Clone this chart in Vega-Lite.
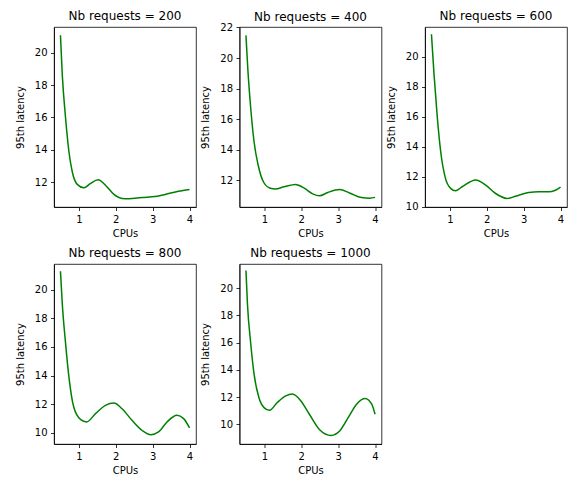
{
  "$schema": "https://vega.github.io/schema/vega-lite/v6.json",
  "padding": {"left": 14, "top": 9, "right": 0, "bottom": 0},
  "config": {
    "font": "DejaVu Sans",
    "view": {"stroke": "#000", "strokeWidth": 0.8},
    "axis": {"grid": false, "domainColor": "#000", "domainWidth": 0.8, "tickColor": "#000", "tickWidth": 0.8, "tickSize": 3.5, "labelPadding": 3.5, "labelFontSize": 10, "labelColor": "#000", "labelFont": "DejaVu Sans", "labelFlush": false, "titleFontSize": 10, "titleFontWeight": "normal", "titleColor": "#000", "titleFont": "DejaVu Sans", "titlePadding": 4},
    "axisY": {"titlePadding": 9},
    "title": {"fontSize": 12, "fontWeight": "normal", "font": "DejaVu Sans", "color": "#000", "anchor": "middle", "frame": "group", "offset": 4}
  },
  "data": {"values": [
    {"req": 200, "cpus": 0.5, "latency": 21.09},
    {"req": 200, "cpus": 0.55, "latency": 18.62},
    {"req": 200, "cpus": 0.64, "latency": 15.94},
    {"req": 200, "cpus": 0.73, "latency": 13.88},
    {"req": 200, "cpus": 0.82, "latency": 12.64},
    {"req": 200, "cpus": 0.955, "latency": 11.86},
    {"req": 200, "cpus": 1.135, "latency": 11.65},
    {"req": 200, "cpus": 1.315, "latency": 11.92},
    {"req": 200, "cpus": 1.52, "latency": 12.14},
    {"req": 200, "cpus": 1.72, "latency": 11.81},
    {"req": 200, "cpus": 1.95, "latency": 11.24},
    {"req": 200, "cpus": 2.17, "latency": 10.99},
    {"req": 200, "cpus": 2.35, "latency": 10.97},
    {"req": 200, "cpus": 2.71, "latency": 11.05},
    {"req": 200, "cpus": 3.07, "latency": 11.11},
    {"req": 200, "cpus": 3.34, "latency": 11.24},
    {"req": 200, "cpus": 3.7, "latency": 11.44},
    {"req": 200, "cpus": 4.0, "latency": 11.55},

    {"req": 400, "cpus": 0.5, "latency": 21.48},
    {"req": 400, "cpus": 0.55, "latency": 19.3},
    {"req": 400, "cpus": 0.63, "latency": 16.7},
    {"req": 400, "cpus": 0.72, "latency": 14.52},
    {"req": 400, "cpus": 0.83, "latency": 13.0},
    {"req": 400, "cpus": 0.98, "latency": 11.87},
    {"req": 400, "cpus": 1.16, "latency": 11.48},
    {"req": 400, "cpus": 1.3, "latency": 11.43},
    {"req": 400, "cpus": 1.53, "latency": 11.57},
    {"req": 400, "cpus": 1.85, "latency": 11.72},
    {"req": 400, "cpus": 2.08, "latency": 11.48},
    {"req": 400, "cpus": 2.31, "latency": 11.11},
    {"req": 400, "cpus": 2.49, "latency": 10.98},
    {"req": 400, "cpus": 2.72, "latency": 11.2},
    {"req": 400, "cpus": 3.04, "latency": 11.39},
    {"req": 400, "cpus": 3.31, "latency": 11.17},
    {"req": 400, "cpus": 3.63, "latency": 10.87},
    {"req": 400, "cpus": 3.86, "latency": 10.83},
    {"req": 400, "cpus": 4.0, "latency": 10.88},

    {"req": 600, "cpus": 0.5, "latency": 21.5},
    {"req": 600, "cpus": 0.57, "latency": 18.82},
    {"req": 600, "cpus": 0.66, "latency": 15.91},
    {"req": 600, "cpus": 0.75, "latency": 13.68},
    {"req": 600, "cpus": 0.88, "latency": 11.89},
    {"req": 600, "cpus": 1.02, "latency": 11.22},
    {"req": 600, "cpus": 1.15, "latency": 11.06},
    {"req": 600, "cpus": 1.33, "latency": 11.33},
    {"req": 600, "cpus": 1.7, "latency": 11.78},
    {"req": 600, "cpus": 1.97, "latency": 11.44},
    {"req": 600, "cpus": 2.24, "latency": 10.88},
    {"req": 600, "cpus": 2.55, "latency": 10.55},
    {"req": 600, "cpus": 2.78, "latency": 10.7},
    {"req": 600, "cpus": 3.14, "latency": 10.95},
    {"req": 600, "cpus": 3.41, "latency": 10.99},
    {"req": 600, "cpus": 3.68, "latency": 10.99},
    {"req": 600, "cpus": 3.86, "latency": 11.1},
    {"req": 600, "cpus": 4.0, "latency": 11.31},

    {"req": 800, "cpus": 0.5, "latency": 21.28},
    {"req": 800, "cpus": 0.55, "latency": 19.0},
    {"req": 800, "cpus": 0.64, "latency": 16.22},
    {"req": 800, "cpus": 0.73, "latency": 13.9},
    {"req": 800, "cpus": 0.86, "latency": 11.81},
    {"req": 800, "cpus": 1.05, "latency": 10.93},
    {"req": 800, "cpus": 1.21, "latency": 10.77},
    {"req": 800, "cpus": 1.45, "latency": 11.35},
    {"req": 800, "cpus": 1.72, "latency": 11.93},
    {"req": 800, "cpus": 1.95, "latency": 12.09},
    {"req": 800, "cpus": 2.17, "latency": 11.69},
    {"req": 800, "cpus": 2.44, "latency": 10.88},
    {"req": 800, "cpus": 2.71, "latency": 10.19},
    {"req": 800, "cpus": 2.95, "latency": 9.88},
    {"req": 800, "cpus": 3.16, "latency": 10.07},
    {"req": 800, "cpus": 3.39, "latency": 10.77},
    {"req": 800, "cpus": 3.66, "latency": 11.23},
    {"req": 800, "cpus": 3.84, "latency": 11.0},
    {"req": 800, "cpus": 4.0, "latency": 10.35},

    {"req": 1000, "cpus": 0.5, "latency": 21.28},
    {"req": 1000, "cpus": 0.54, "latency": 18.87},
    {"req": 1000, "cpus": 0.63, "latency": 15.91},
    {"req": 1000, "cpus": 0.72, "latency": 13.69},
    {"req": 1000, "cpus": 0.85, "latency": 11.97},
    {"req": 1000, "cpus": 0.99, "latency": 11.23},
    {"req": 1000, "cpus": 1.14, "latency": 11.03},
    {"req": 1000, "cpus": 1.35, "latency": 11.6},
    {"req": 1000, "cpus": 1.58, "latency": 12.09},
    {"req": 1000, "cpus": 1.76, "latency": 12.22},
    {"req": 1000, "cpus": 1.99, "latency": 11.72},
    {"req": 1000, "cpus": 2.22, "latency": 10.74},
    {"req": 1000, "cpus": 2.49, "latency": 9.63},
    {"req": 1000, "cpus": 2.81, "latency": 9.19},
    {"req": 1000, "cpus": 3.04, "latency": 9.51},
    {"req": 1000, "cpus": 3.27, "latency": 10.49},
    {"req": 1000, "cpus": 3.5, "latency": 11.48},
    {"req": 1000, "cpus": 3.73, "latency": 11.9},
    {"req": 1000, "cpus": 3.91, "latency": 11.48},
    {"req": 1000, "cpus": 4.0, "latency": 10.74}
  ]},
  "columns": 3,
  "bounds": "flush",
  "spacing": {"row": 57, "column": 43.5},
  "concat": [
    {
      "title": "Nb requests = 200",
      "width": 142, "height": 180,
      "transform": [{"filter": "datum.req == 200"}],
      "mark": {"type": "line", "color": "#008000", "strokeWidth": 1.5, "interpolate": "monotone"},
      "encoding": {
        "x": {"field": "cpus", "type": "quantitative", "scale": {"domain": [0.325, 4.175], "nice": false, "zero": false}, "axis": {"values": [1, 2, 3, 4], "title": "CPUs"}},
        "y": {"field": "latency", "type": "quantitative", "scale": {"domain": [10.46, 21.6], "nice": false, "zero": false}, "axis": {"values": [12, 14, 16, 18, 20], "title": "95th latency"}}
      }
    },
    {
      "title": {"text": "Nb requests = 400", "offset": -2},
      "width": 142, "height": 180,
      "transform": [{"filter": "datum.req == 400"}],
      "mark": {"type": "line", "color": "#008000", "strokeWidth": 1.5, "interpolate": "monotone"},
      "encoding": {
        "x": {"field": "cpus", "type": "quantitative", "scale": {"domain": [0.325, 4.175], "nice": false, "zero": false}, "axis": {"values": [1, 2, 3, 4], "title": "CPUs"}},
        "y": {"field": "latency", "type": "quantitative", "scale": {"domain": [10.25, 22.03], "nice": false, "zero": false}, "axis": {"values": [12, 14, 16, 18, 20, 22], "title": "95th latency"}}
      }
    },
    {
      "title": "Nb requests = 600",
      "width": 142, "height": 180,
      "transform": [{"filter": "datum.req == 600"}],
      "mark": {"type": "line", "color": "#008000", "strokeWidth": 1.5, "interpolate": "monotone"},
      "encoding": {
        "x": {"field": "cpus", "type": "quantitative", "scale": {"domain": [0.325, 4.175], "nice": false, "zero": false}, "axis": {"values": [1, 2, 3, 4], "title": "CPUs"}},
        "y": {"field": "latency", "type": "quantitative", "scale": {"domain": [9.98, 21.98], "nice": false, "zero": false}, "axis": {"values": [10, 12, 14, 16, 18, 20], "title": "95th latency"}}
      }
    },
    {
      "title": "Nb requests = 800",
      "width": 142, "height": 180,
      "transform": [{"filter": "datum.req == 800"}],
      "mark": {"type": "line", "color": "#008000", "strokeWidth": 1.5, "interpolate": "monotone"},
      "encoding": {
        "x": {"field": "cpus", "type": "quantitative", "scale": {"domain": [0.325, 4.175], "nice": false, "zero": false}, "axis": {"values": [1, 2, 3, 4], "title": "CPUs"}},
        "y": {"field": "latency", "type": "quantitative", "scale": {"domain": [9.23, 21.79], "nice": false, "zero": false}, "axis": {"values": [10, 12, 14, 16, 18, 20], "title": "95th latency"}}
      }
    },
    {
      "title": "Nb requests = 1000",
      "width": 142, "height": 180,
      "transform": [{"filter": "datum.req == 1000"}],
      "mark": {"type": "line", "color": "#008000", "strokeWidth": 1.5, "interpolate": "monotone"},
      "encoding": {
        "x": {"field": "cpus", "type": "quantitative", "scale": {"domain": [0.325, 4.175], "nice": false, "zero": false}, "axis": {"values": [1, 2, 3, 4], "title": "CPUs"}},
        "y": {"field": "latency", "type": "quantitative", "scale": {"domain": [8.56, 21.76], "nice": false, "zero": false}, "axis": {"values": [10, 12, 14, 16, 18, 20], "title": "95th latency"}}
      }
    }
  ]
}
